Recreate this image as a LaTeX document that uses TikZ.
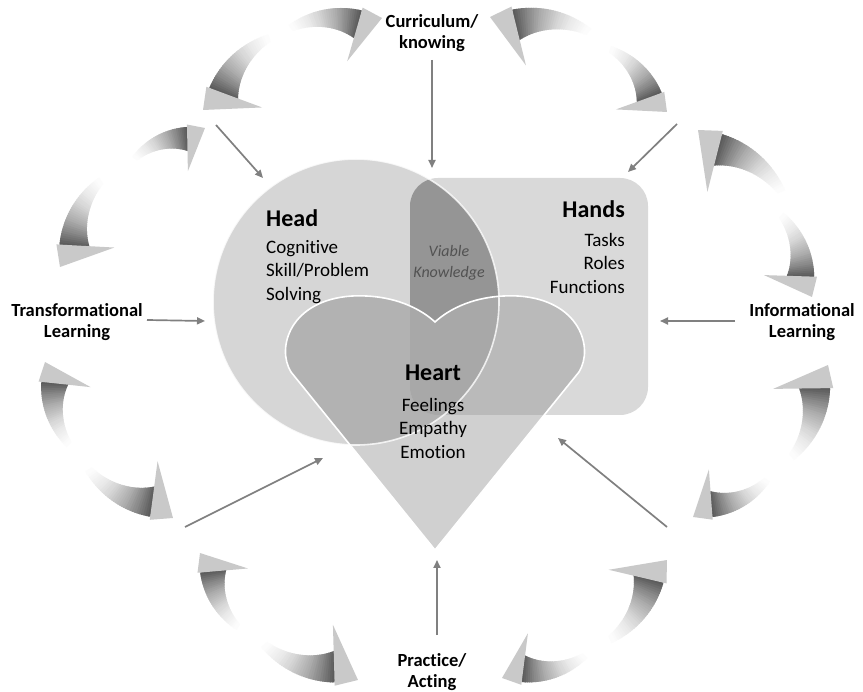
\documentclass[tikz,border=0pt]{standalone}
\usepackage{fontspec}
\setmainfont{Carlito}[Ligatures=NoCommon]
\usetikzlibrary{arrows.meta}

\definecolor{circfill}{gray}{0.84}
\definecolor{rectfill}{gray}{0.85}
\definecolor{lensfill}{gray}{0.585}
\definecolor{heartfill}{gray}{0.815}
\definecolor{heartcirc}{gray}{0.70}
\definecolor{heartrect}{gray}{0.73}
\definecolor{heartall}{gray}{0.66}
\definecolor{linkgray}{gray}{0.5}
\definecolor{headgray}{gray}{0.79}
\definecolor{vkgray}{gray}{0.32}

% Curved, shaded block arrow running from a tail point (#1,#2) to a tip (#3,#4);
% #5 is the bulge of its outer edge as a fraction of the chord. It always bows
% away from the centre of the figure.
\newcommand{\ringarrow}[5]{%
  \pgfmathsetmacro\rdx{#3-#1}%
  \pgfmathsetmacro\rdy{#4-#2}%
  \pgfmathsetmacro\rlen{veclen(\rdx,\rdy)}%
  \pgfmathsetmacro\rang{atan2(\rdy,\rdx)}%
  \pgfmathsetmacro\rdot{((#1+#3)/200-4.32)*(-\rdy/100)+((#2+#4)/200-3.46)*(\rdx/100)}%
  \pgfmathsetmacro\rside{ifthenelse(\rdot>0,1,-1)}%
  \pgfmathsetmacro\rR{(0.25+#5*#5)/(2*#5)}%
  \pgfmathsetmacro\rend{atan2(\rR-#5,0.5)}%
  \pgfmathsetmacro\rtail{180-\rend}%
  \pgfmathsetmacro\rbase{\rend+0.22/\rR*57.2958}%
  \pgfmathsetmacro\rflap{\rbase+0.06/\rR*57.2958}%
  \pgfmathsetmacro\rHo{\rR+0.03}%
  \pgfmathsetmacro\rHi{\rR-0.54}%
  \begin{scope}[shift={(#1,#2)},rotate=\rang,scale=\rlen,yscale=\rside,shift={(0.5,#5-\rR)}]
    \foreach \k in {0,...,35}{%
      \pgfmathsetmacro\qta{\k/36}%
      \pgfmathsetmacro\qtb{min(1,(\k+1.5)/36)}%
      \pgfmathsetmacro\qpa{\rtail-\qta*(\rtail-\rbase)}%
      \pgfmathsetmacro\qpb{\rtail-\qtb*(\rtail-\rbase)}%
      \pgfmathsetmacro\qia{\rR-0.30*(0.2+0.8*\qta)}%
      \pgfmathsetmacro\qib{\rR-0.30*(0.2+0.8*\qtb)}%
      \pgfmathtruncatemacro\qsh{68*\qta*(0.25+0.75*\qta)}%
      \fill[black!\qsh] (\qpa:\rR) -- (\qpb:\rR) -- (\qpb:\qib) -- (\qpa:\qia) -- cycle;
    }
    \fill[headgray] (\rbase:\rHo) -- (\rend:\rR) -- (\rflap:\rHi) -- cycle;
  \end{scope}}

\tikzset{
  link/.style={draw=linkgray, line width=1.7pt, -{Triangle[length=8pt,width=7pt]}},
  lbl/.style={font=\fontsize{18.5}{21}\selectfont\bfseries, align=center, inner sep=0pt},
  title/.style={font=\fontsize{24}{28}\selectfont\bfseries, inner sep=0pt},
  body/.style={font=\fontsize{19}{23.5}\selectfont, inner sep=0pt},
  rim/.style={draw=white, line width=1.6pt}
}

\begin{document}
\begin{tikzpicture}[x=1pt, y=1pt, yscale=-1]
\useasboundingbox (0,0) rectangle (863,692);
\fill[white] (0,0) rectangle (863,692);

% ring of curved arrows
\ringarrow{285}{28}{382}{18}{0.15}
\ringarrow{273}{33}{203}{110}{0.15}
\ringarrow{130}{160}{205}{128}{0.15}
\ringarrow{103}{175}{60}{267}{0.15}
\ringarrow{595}{32}{490}{17}{0.15}
\ringarrow{607}{45}{667}{112}{0.15}
\ringarrow{787}{195}{698}{130}{0.15}
\ringarrow{780}{210}{812}{297}{0.15}
\ringarrow{790}{463}{828}{365}{0.15}
\ringarrow{772}{478}{693}{517}{0.15}
\ringarrow{607}{645}{667}{560}{0.15}
\ringarrow{590}{655}{502}{678}{0.15}
\ringarrow{258}{643}{358}{680}{0.15}
\ringarrow{240}{632}{200}{553}{0.15}
\ringarrow{83}{467}{173}{518}{0.15}
\ringarrow{70}{450}{45}{362}{0.15}

% the three domains
\def\headpath{(356,302) circle[radius=143pt]}
\def\handpath{[rounded corners=28pt] (410,178) rectangle (648,415)}
\def\heartpath{(435,550) -- (291,372) .. controls (276,348) and (290,300) .. (352,296)
  .. controls (395,294) and (422,310) .. (435,322)
  .. controls (448,310) and (475,294) .. (518,296)
  .. controls (580,300) and (594,348) .. (579,372) -- cycle}

\fill[circfill] \headpath;
\fill[rectfill] \handpath;
\begin{scope}
  \clip \headpath;
  \fill[lensfill] \handpath;
\end{scope}
\fill[heartfill] \heartpath;
\begin{scope}
  \clip \heartpath;
  \begin{scope}
    \clip \headpath;
    \fill[heartcirc] \heartpath;
  \end{scope}
  \begin{scope}
    \clip \handpath;
    \fill[heartrect] \heartpath;
    \clip \headpath;
    \fill[heartall] \heartpath;
  \end{scope}
\end{scope}
\draw[rim, draw opacity=0.8] \headpath;
\draw[rim] \heartpath;

% texts inside the domains
\node[title, anchor=west] (head) at (266,218) {Head};
\node[body, anchor=west, align=left] (headtxt) at (266,272) {Cognitive\\Skill/Problem\\Solving};
\node[title, anchor=east] (hands) at (625,209) {Hands};
\node[body, anchor=east, align=right] (handstxt) at (625,263) {Tasks\\Roles\\Functions};
\node[title] (heart) at (433,373) {Heart};
\node[body, align=center] (hearttxt) at (433,428) {Feelings\\Empathy\\Emotion};
\node[font=\fontsize{16}{21}\selectfont\itshape, text=vkgray, align=center, inner sep=0pt]
  (viable) at (449,263) {Viable\\Knowledge};

% outer labels
\node[lbl] (cur) at (432,33) {Curriculum/\\knowing};
\node[lbl] (trans) at (77,322) {Transformational\\Learning};
\node[lbl] (info) at (802,322) {Informational\\Learning};
\node[lbl] (prac) at (432,672) {Practice/\\Acting};

% straight connectors
\coordinate (c1) at (432,60);   \coordinate (c2) at (432,168);
\coordinate (tl1) at (216,125); \coordinate (tl2) at (263,178);
\coordinate (tr1) at (677,124); \coordinate (tr2) at (628,172);
\coordinate (t1) at (147,320);  \coordinate (t2) at (205,321);
\coordinate (i1) at (735,321);  \coordinate (i2) at (660,321);
\coordinate (bl1) at (185,527); \coordinate (bl2) at (323,458);
\coordinate (br1) at (667,527); \coordinate (br2) at (558,438);
\coordinate (p1) at (437,635);  \coordinate (p2) at (437,560);

\draw[link] (c1) -- (c2);
\draw[link] (tl1) -- (tl2);
\draw[link] (tr1) -- (tr2);
\draw[link] (t1) -- (t2);
\draw[link] (i1) -- (i2);
\draw[link] (bl1) -- (bl2);
\draw[link] (br1) -- (br2);
\draw[link] (p1) -- (p2);
\end{tikzpicture}
\end{document}
